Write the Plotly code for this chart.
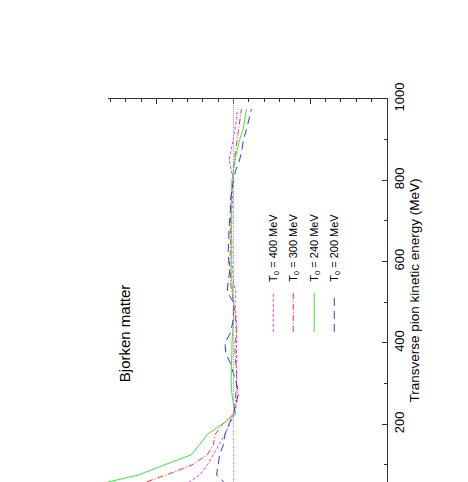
import plotly.graph_objects as go

# Transverse pion kinetic energy (MeV)
energy = [50, 75, 100, 125, 150, 175, 200, 225, 250, 275, 300, 325, 350, 375, 400,
          425, 450, 475, 500, 525, 550, 575, 600, 625, 650, 675, 700, 725, 750, 775,
          800, 825, 850, 875, 900, 925, 950, 975]

ratio_T400 = [1.32, 1.22, 1.17, 1.13, 1.09, 1.055, 1.025, 0.995, 0.98, 0.975, 0.98, 0.98,
              0.98, 0.98, 0.98, 0.98, 0.98, 0.985, 0.99, 0.985, 1.0, 1.005, 1.01, 1.01,
              1.01, 1.015, 1.01, 1.01, 1.005, 1.005, 1.0, 1.015, 1.028, 1.015, 1.0, 0.99,
              0.98, 0.974]
ratio_T300 = [1.63, 1.44, 1.27, 1.17, 1.13, 1.12, 1.07, 1.0, 0.99, 0.985, 0.98, 0.98,
              0.985, 0.99, 0.99, 0.98, 0.985, 0.99, 1.0, 1.01, 1.02, 1.02, 1.025, 1.02,
              1.02, 1.02, 1.02, 1.015, 1.015, 1.01, 1.005, 1.0, 0.995, 0.985, 0.975, 0.965,
              0.955, 0.948]
ratio_T240 = [1.91, 1.62, 1.45, 1.275, 1.22, 1.17, 1.075, 0.985, 1.0, 1.01, 1.015, 1.015,
              1.013, 1.01, 1.01, 1.005, 1.0, 1.0, 1.0, 1.005, 1.01, 1.015, 1.015, 1.015,
              1.015, 1.015, 1.015, 1.015, 1.015, 1.013, 1.01, 1.0, 0.99, 0.975, 0.96, 0.937,
              0.925, 0.915]
ratio_T200 = [1.04, 1.11, 1.10, 1.09, 1.065, 1.055, 1.03, 1.0, 0.985, 0.967, 0.98, 1.0,
              1.02, 1.05, 1.055, 1.02, 1.005, 1.0, 1.0, 1.04, 1.035, 1.025, 1.03, 1.035,
              1.03, 1.03, 1.025, 1.02, 1.02, 1.01, 1.0, 0.985, 0.96, 0.945, 0.935, 0.915,
              0.9, 0.883]

legend_labels = ["T<sub>0</sub> = 400 MeV", "T<sub>0</sub> = 300 MeV",
                 "T<sub>0</sub> = 240 MeV", "T<sub>0</sub> = 200 MeV"]
REF_RATIO = 1.0
energy_ticks = [200, 400, 600, 800, 1000]

series = [ratio_T400, ratio_T300, ratio_T240, ratio_T200]
colors = ["#ff33ff", "#ff3333", "#33ee33", "#3333ff"]
dashes = ["3px,2px", "6px,2px,1px,2px", "solid", "8px,5px"]

FONT = "Liberation Sans, Arial, Helvetica, sans-serif"

fig = go.Figure()
for vals, c, d, name in zip(series, colors, dashes, legend_labels):
    fig.add_trace(go.Scatter(x=vals, y=energy, mode="lines", name=name,
                             line=dict(color=c, width=1, dash=d), showlegend=False))

# dotted reference line
fig.add_shape(type="line", xref="x", yref="paper", x0=REF_RATIO, x1=REF_RATIO, y0=0, y1=1,
              line=dict(color="#999999", width=1, dash="1px,1px"))

# manual rotated legend
leg_x = [0.5925, 0.664, 0.739, 0.811]
for lx, c, d, name in zip(leg_x, colors, dashes, legend_labels):
    fig.add_shape(type="line", xref="paper", yref="paper", x0=lx, x1=lx, y0=0.392, y1=0.494,
                  line=dict(color=c, width=1, dash=d))
    fig.add_annotation(xref="paper", yref="paper", x=lx, y=0.612, text=name, textangle=-90,
                       showarrow=False, xanchor="center", yanchor="middle",
                       font=dict(family=FONT, size=11, color="black"))

fig.add_annotation(xref="paper", yref="paper", x=0.058, y=0.389, text="Bjorken matter",
                   textangle=-90, showarrow=False, xanchor="center", yanchor="middle",
                   font=dict(family=FONT, size=15, color="black"))

fig.update_layout(
    width=468, height=482,
    margin=dict(l=100, r=89, t=91, b=8, autoexpand=False),
    paper_bgcolor="white", plot_bgcolor="white",
    font=dict(family=FONT, size=12, color="black"),
    xaxis=dict(range=[1.817, 0], side="top", showline=True, linecolor="#333333", linewidth=1,
               mirror=False, ticks="inside", tick0=0, dtick=0.5, ticklen=5, tickcolor="#333333",
               minor=dict(ticks="inside", dtick=0.1, ticklen=3, tickcolor="#333333"),
               showticklabels=False, showgrid=False, zeroline=False),
    yaxis=dict(range=[58, 1000], side="right", showline=True, linecolor="#333333", linewidth=1,
               mirror=False, ticks="inside", tickvals=energy_ticks, ticklen=5, tickcolor="#333333",
               minor=dict(ticks="inside", dtick=100, tick0=0, ticklen=3, tickcolor="#333333"),
               tickangle=-90, tickfont=dict(size=13), showgrid=False, zeroline=False,
               title=dict(text="Transverse pion kinetic energy (MeV)", font=dict(size=13.5),
                          standoff=3)),
)

fig.write_html("out.html")
